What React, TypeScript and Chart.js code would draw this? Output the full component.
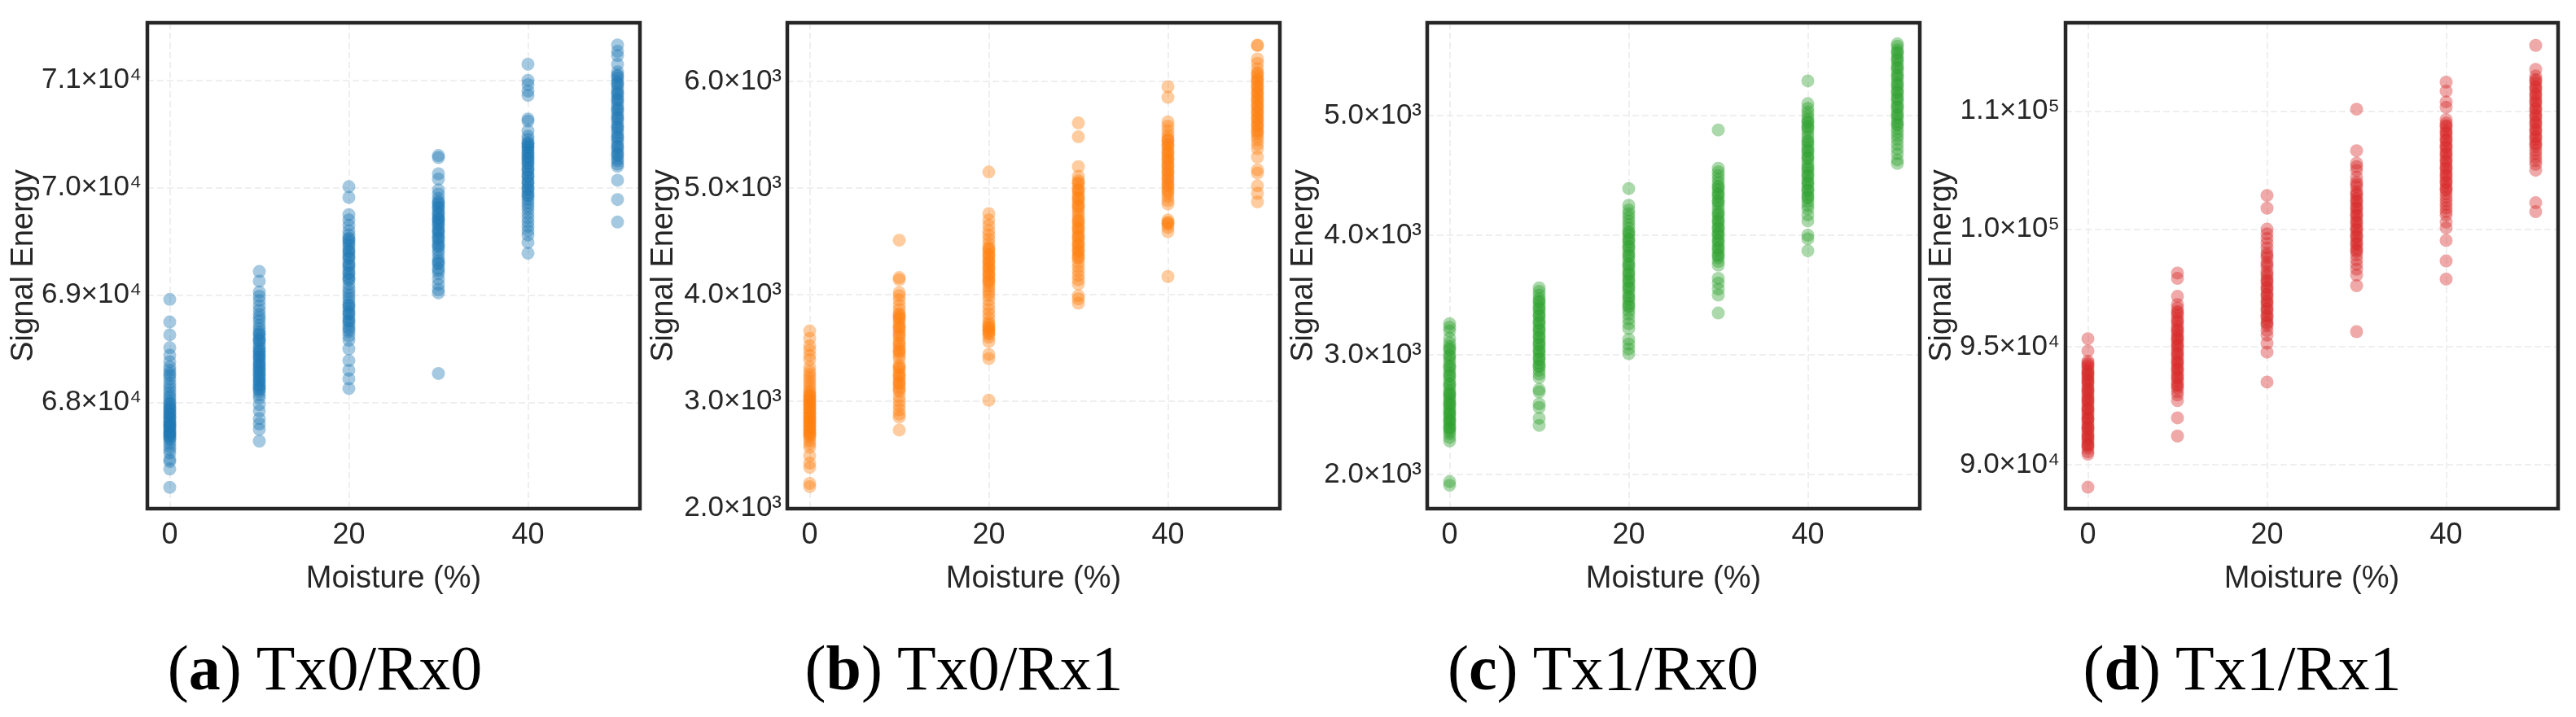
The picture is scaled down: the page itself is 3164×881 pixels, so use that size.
import { useEffect, useRef } from "react"
import Chart from "chart.js/auto"

Chart.defaults.font.family = "'Liberation Sans', Arial, Helvetica, sans-serif"

const moisture = [0, 10, 20, 30, 40, 50]
const xTicks = [0, 20, 40]

// signal energy per moisture level (0, 10, 20, 30, 40, 50 %)
const tx0rx0 = [
  [68960, 68750, 68630, 68510, 68440, 68380, 68330, 68300, 68270, 68250, 68220, 68180, 68150, 68120, 68090, 68060, 68040, 68010, 67990, 67960, 67945, 67920, 67900, 67880, 67865, 67840, 67820, 67800, 67790, 67770, 67745, 67730, 67710, 67690, 67665, 67650, 67620, 67590, 67560, 67530, 67470, 67450, 67380, 67210,
    67985, 67935, 67895, 67855, 67815, 67780, 67760, 67720, 67700, 67680],
  [69220, 69130, 69030, 68990, 68950, 68900, 68860, 68820, 68790, 68760, 68720, 68690, 68660, 68630, 68600, 68575, 68550, 68520, 68500, 68470, 68450, 68420, 68400, 68380, 68350, 68330, 68300, 68280, 68250, 68230, 68200, 68180, 68150, 68120, 68100, 68070, 68040, 67980, 67920, 67850, 67800, 67750, 67640,
    68640, 68580, 68480, 68430, 68360, 68310, 68260, 68210, 68160, 68130],
  [70010, 69910, 69750, 69700, 69650, 69600, 69560, 69530, 69500, 69460, 69430, 69400, 69370, 69340, 69300, 69270, 69240, 69200, 69170, 69140, 69100, 69060, 69030, 69000, 68970, 68940, 68910, 68880, 68850, 68820, 68790, 68760, 68730, 68700, 68660, 68620, 68580, 68500, 68390, 68300, 68220, 68130,
    69520, 69480, 69410, 69350, 69280, 69210, 69150, 68900, 68830, 68760, 68680],
  [70300, 70280, 70130, 70080, 69980, 69940, 69900, 69870, 69840, 69810, 69780, 69750, 69720, 69700, 69680, 69650, 69620, 69600, 69570, 69540, 69510, 69480, 69450, 69420, 69390, 69350, 69320, 69290, 69250, 69200, 69150, 69100, 69050, 69020, 68270,
    69860, 69820, 69760, 69710, 69660, 69590, 69530, 69460, 69300, 69230],
  [71150, 71000, 70960, 70900, 70860, 70640, 70620, 70530, 70480, 70450, 70420, 70400, 70380, 70350, 70320, 70300, 70270, 70250, 70220, 70190, 70160, 70130, 70100, 70070, 70040, 70010, 69980, 69950, 69920, 69890, 69860, 69830, 69800, 69760, 69720, 69680, 69640, 69600, 69560, 69490, 69390,
    70410, 70370, 70330, 70280, 70230, 70170, 70110, 70050, 69990, 69930],
  [71330, 71270, 71230, 71150, 71080, 71050, 71020, 70990, 70960, 70930, 70900, 70870, 70840, 70810, 70780, 70750, 70720, 70690, 70660, 70630, 70600, 70570, 70540, 70510, 70480, 70450, 70420, 70390, 70360, 70330, 70300, 70270, 70250, 70220, 70200, 70070, 69890, 69680,
    71040, 70970, 70880, 70820, 70730, 70650, 70560, 70470, 70380, 70310],
]

const tx0rx1 = [
  [3660, 3590, 3520, 3480, 3430, 3390, 3320, 3280, 3250, 3220, 3190, 3160, 3130, 3100, 3080, 3060, 3040, 3020, 3000, 2980, 2960, 2940, 2920, 2900, 2880, 2860, 2840, 2820, 2800, 2780, 2760, 2740, 2720, 2700, 2680, 2660, 2630, 2600, 2570, 2490, 2420, 2380, 2230, 2200,
    3050, 3010, 2970, 2930, 2890, 2850, 2810, 2770, 2730, 2690],
  [4510, 4160, 4140, 4020, 3990, 3950, 3900, 3860, 3820, 3790, 3760, 3730, 3700, 3670, 3640, 3600, 3560, 3520, 3490, 3460, 3430, 3400, 3340, 3310, 3280, 3250, 3220, 3190, 3160, 3130, 3090, 3040, 3000, 2960, 2920, 2880, 2850, 2730,
    3810, 3780, 3690, 3620, 3540, 3470, 3320, 3240, 3170, 3110],
  [5150, 4760, 4700, 4650, 4600, 4560, 4520, 4480, 4440, 4410, 4380, 4350, 4320, 4290, 4260, 4230, 4200, 4170, 4140, 4110, 4080, 4050, 4020, 3990, 3950, 3900, 3860, 3820, 3780, 3740, 3700, 3670, 3640, 3600, 3560, 3440, 3400, 3010,
    4430, 4370, 4310, 4250, 4190, 4130, 3720, 3690, 3660, 3630],
  [5610, 5480, 5200, 5110, 5070, 5040, 5000, 4970, 4940, 4910, 4880, 4850, 4820, 4790, 4760, 4730, 4700, 4670, 4640, 4610, 4580, 4550, 4520, 4490, 4460, 4430, 4400, 4370, 4340, 4300, 4260, 4220, 4180, 4140, 4100, 3990, 3960, 3920,
    5050, 4980, 4900, 4830, 4690, 4620, 4540, 4470, 4410, 4350],
  [5950, 5850, 5620, 5580, 5540, 5500, 5470, 5440, 5410, 5380, 5350, 5320, 5290, 5260, 5230, 5200, 5170, 5140, 5110, 5080, 5050, 5020, 4990, 4950, 4920, 4880, 4850, 4700, 4680, 4660, 4630, 4590, 4170,
    5450, 5400, 5330, 5270, 5210, 5150, 5090, 5030, 4970, 4670],
  [6340, 6335, 6210, 6170, 6120, 6080, 6050, 6020, 5990, 5960, 5930, 5900, 5870, 5840, 5810, 5780, 5750, 5720, 5690, 5660, 5630, 5600, 5570, 5540, 5510, 5480, 5450, 5410, 5370, 5290, 5170, 5140, 5020, 4950, 4870,
    6070, 6010, 5950, 5890, 5830, 5770, 5710, 5650, 5590, 5530],
]

const tx1rx0 = [
  [3260, 3230, 3200, 3140, 3100, 3070, 3040, 3000, 2970, 2940, 2910, 2880, 2850, 2820, 2790, 2760, 2730, 2700, 2680, 2660, 2640, 2620, 2600, 2580, 2560, 2540, 2520, 2500, 2480, 2460, 2440, 2420, 2400, 2380, 2360, 2340, 2310, 2280, 1940, 1910,
    3050, 2990, 2900, 2830, 2750, 2670, 2590, 2510, 2450, 2390],
  [3560, 3530, 3500, 3470, 3440, 3410, 3380, 3350, 3320, 3290, 3260, 3230, 3200, 3170, 3140, 3110, 3080, 3050, 3020, 2990, 2960, 2930, 2900, 2870, 2840, 2810, 2710, 2690, 2590, 2560, 2470, 2410,
    3450, 3390, 3330, 3270, 3210, 3150, 3090, 3030, 2970, 2910],
  [4390, 4250, 4210, 4180, 4150, 4120, 4090, 4060, 4030, 4000, 3970, 3940, 3910, 3880, 3850, 3820, 3790, 3760, 3730, 3700, 3670, 3640, 3610, 3580, 3550, 3520, 3490, 3460, 3430, 3400, 3370, 3340, 3300, 3260, 3220, 3130, 3090, 3050, 3010,
    4020, 3960, 3900, 3830, 3750, 3680, 3620, 3560, 3480, 3410],
  [4880, 4560, 4530, 4500, 4470, 4440, 4410, 4380, 4350, 4320, 4290, 4260, 4230, 4200, 4170, 4140, 4110, 4080, 4050, 4020, 3990, 3960, 3930, 3900, 3870, 3840, 3810, 3780, 3750, 3640, 3600, 3550, 3500, 3350,
    4400, 4340, 4280, 4180, 4120, 4060, 4010, 3950, 3890, 3830],
  [5290, 5100, 5060, 5030, 5000, 4970, 4940, 4910, 4880, 4850, 4820, 4790, 4760, 4730, 4700, 4670, 4640, 4610, 4580, 4550, 4520, 4490, 4460, 4430, 4400, 4370, 4340, 4310, 4280, 4250, 4220, 4170, 4120, 4000, 3970, 3870,
    4950, 4900, 4780, 4710, 4650, 4560, 4500, 4440, 4380, 4320],
  [5600, 5580, 5550, 5520, 5490, 5460, 5430, 5400, 5370, 5340, 5310, 5280, 5250, 5220, 5190, 5160, 5130, 5100, 5070, 5040, 5010, 4980, 4950, 4920, 4890, 4860, 4830, 4800, 4760, 4720, 4680, 4630, 4600,
    5530, 5470, 5400, 5330, 5260, 5200, 5140, 5070, 5000, 4930],
]

const tx1rx1 = [
  [95350, 94830, 94400, 94310, 94180, 94090, 93990, 93920, 93810, 93700, 93630, 93510, 93420, 93300, 93220, 93090, 93010, 92890, 92810, 92690, 92620, 92500, 92390, 92320, 92190, 92110, 91990, 91920, 91800, 91690, 91620, 91500, 91410, 91300, 91220, 91090, 91010, 90880, 90790, 90700, 90550, 90450, 89050,
    94250, 93850, 93550, 93150, 92750, 92350, 91950, 91550, 91150, 90850],
  [98140, 97910, 97150, 96800, 96650, 96500, 96350, 96200, 96050, 95900, 95780, 95650, 95520, 95400, 95280, 95150, 95030, 94900, 94780, 94650, 94520, 94400, 94280, 94150, 94020, 93900, 93780, 93650, 93520, 93400, 93250, 93100, 92960, 92720, 91990, 91220,
    96450, 96100, 95700, 95350, 95050, 94700, 94350, 94050, 93700, 93350],
  [101430, 100890, 100000, 99800, 99600, 99400, 99200, 99000, 98800, 98600, 98400, 98200, 98000, 97850, 97700, 97550, 97400, 97250, 97100, 96950, 96800, 96650, 96500, 96350, 96200, 96050, 95900, 95700, 95500, 95160, 94780, 93510,
    98900, 98500, 98100, 97800, 97500, 97200, 96900, 96600, 96300, 96000],
  [105090, 103330, 102800, 102650, 102490, 102200, 102000, 101800, 101600, 101450, 101300, 101150, 101000, 100850, 100700, 100550, 100400, 100250, 100100, 99950, 99800, 99650, 99500, 99350, 99200, 99050, 98900, 98700, 98500, 98300, 98050, 97600, 95650,
    101900, 101500, 101200, 100900, 100600, 100300, 100000, 99700, 99400, 99100],
  [106240, 105860, 105400, 105170, 104650, 104500, 104350, 104200, 104050, 103900, 103750, 103600, 103450, 103300, 103150, 103000, 102850, 102700, 102550, 102400, 102250, 102100, 101950, 101800, 101650, 101500, 101350, 101200, 101050, 100900, 100750, 100600, 100300, 100050, 99520, 98650, 97880,
    104400, 104100, 103800, 103500, 103200, 102900, 102600, 102300, 102000, 101700],
  [107800, 106780, 106500, 106350, 106200, 106050, 105900, 105750, 105600, 105450, 105300, 105150, 105000, 104850, 104700, 104550, 104400, 104250, 104100, 103950, 103800, 103650, 103500, 103350, 103200, 103050, 102900, 102750, 102500, 101120, 100740,
    106300, 106000, 105700, 105400, 105100, 104800, 104500, 104200, 103900, 103600],
]

const yTicksA = [68000, 69000, 70000, 71000]
const yLabelsA = ["6.8×10⁴", "6.9×10⁴", "7.0×10⁴", "7.1×10⁴"]
const yTicksB = [2000, 3000, 4000, 5000, 6000]
const yLabelsB = ["2.0×10³", "3.0×10³", "4.0×10³", "5.0×10³", "6.0×10³"]
const yTicksC = [2000, 3000, 4000, 5000]
const yLabelsC = ["2.0×10³", "3.0×10³", "4.0×10³", "5.0×10³"]
const yTicksD = [90000, 95000, 100000, 105000]
const yLabelsD = ["9.0×10⁴", "9.5×10⁴", "1.0×10⁵", "1.1×10⁵"]

const CANVAS_W = 792
const CANVAS_H = 760
const Y_AXIS_W = 179
const PLOT_W = 607
const PLOT_TOP = 24
const PLOT_BOTTOM = 625
const INK = "#262626"

// dark box round the plot area, like matplotlib spines
const framePlugin = {
  id: "frame",
  afterDraw(chart) {
    const { ctx, chartArea } = chart
    ctx.save()
    ctx.strokeStyle = INK
    ctx.lineWidth = 4.5
    ctx.strokeRect(chartArea.left, chartArea.top, chartArea.right - chartArea.left, chartArea.bottom - chartArea.top)
    ctx.restore()
  },
}

function Panel({ left, values, color, yMin, yMax, yTicks, yLabels }) {
  const canvasRef = useRef(null)
  const chartRef = useRef(null)

  useEffect(() => {
    const points = values.flatMap((col, i) => col.map((v) => ({ x: moisture[i], y: v })))

    chartRef.current = new Chart(canvasRef.current, {
      type: "scatter",
      data: {
        datasets: [
          {
            data: points,
            backgroundColor: color,
            borderWidth: 0,
            pointRadius: 8,
            pointHoverRadius: 8,
          },
        ],
      },
      options: {
        animation: false,
        responsive: false,
        events: [],
        layout: { padding: { left: 0, right: CANVAS_W - Y_AXIS_W - PLOT_W, top: PLOT_TOP, bottom: 0 } },
        plugins: { legend: { display: false }, tooltip: { enabled: false } },
        scales: {
          x: {
            type: "linear",
            min: -2.5,
            max: 52.5,
            afterBuildTicks: (s) => {
              s.ticks = xTicks.map((v) => ({ value: v }))
            },
            afterFit: (s) => {
              s.height = CANVAS_H - PLOT_BOTTOM
            },
            ticks: { color: INK, font: { size: 36 }, padding: 11 },
            grid: { color: "#efefef", lineWidth: 2, drawTicks: false },
            border: { display: false, dash: [8, 4] },
            title: {
              display: true,
              text: "Moisture (%)",
              color: INK,
              font: { size: 38 },
              padding: { top: 0, bottom: 26 },
            },
          },
          y: {
            type: "linear",
            min: yMin,
            max: yMax,
            afterBuildTicks: (s) => {
              s.ticks = yTicks.map((v) => ({ value: v }))
            },
            afterFit: (s) => {
              s.width = Y_AXIS_W
            },
            ticks: {
              color: INK,
              font: { size: 35 },
              padding: 7,
              callback: (v) => yLabels[yTicks.indexOf(v)],
            },
            grid: { color: "#efefef", lineWidth: 2, drawTicks: false },
            border: { display: false, dash: [8, 4] },
            title: {
              display: true,
              text: "Signal Energy",
              color: INK,
              font: { size: 38 },
              padding: { top: 5, bottom: 0 },
            },
          },
        },
      },
      plugins: [framePlugin],
    })

    return () => {
      if (chartRef.current) {
        chartRef.current.destroy()
      }
    }
  }, [values, color, yMin, yMax, yTicks, yLabels])

  return (
    <canvas
      ref={canvasRef}
      width={CANVAS_W}
      height={CANVAS_H}
      style={{ position: "absolute", left, top: 0, width: CANVAS_W, height: CANVAS_H }}
    ></canvas>
  )
}

function Caption({ center, letter, text }) {
  return (
    <div
      style={{
        position: "absolute",
        left: center - 300,
        top: 782,
        width: 600,
        textAlign: "center",
        fontFamily: "'Liberation Serif', 'Times New Roman', serif",
        fontSize: 78,
        lineHeight: "78px",
        color: "#000",
        whiteSpace: "nowrap",
      }}
    >
      (<b>{letter}</b>) {text}
    </div>
  )
}

export default function App() {
  return (
    <div style={{ position: "absolute", left: 0, top: 0, width: 3164, height: 881, background: "#fff", overflow: "hidden" }}>
      <Panel left={181 - Y_AXIS_W} values={tx0rx0} color="rgba(31,119,180,0.4)" yMin={67011} yMax={71536} yTicks={yTicksA} yLabels={yLabelsA} />
      <Panel left={967 - Y_AXIS_W} values={tx0rx1} color="rgba(255,127,14,0.4)" yMin={1993} yMax={6549} yTicks={yTicksB} yLabels={yLabelsB} />
      <Panel left={1753 - Y_AXIS_W} values={tx1rx0} color="rgba(44,160,44,0.4)" yMin={1714} yMax={5776} yTicks={yTicksC} yLabels={yLabelsC} />
      <Panel left={2537 - Y_AXIS_W} values={tx1rx1} color="rgba(214,39,40,0.4)" yMin={88136} yMax={108758} yTicks={yTicksD} yLabels={yLabelsD} />
      <Caption center={399} letter="a" text="Tx0/Rx0" />
      <Caption center={1184} letter="b" text="Tx0/Rx1" />
      <Caption center={1969} letter="c" text="Tx1/Rx0" />
      <Caption center={2754} letter="d" text="Tx1/Rx1" />
    </div>
  )
}
